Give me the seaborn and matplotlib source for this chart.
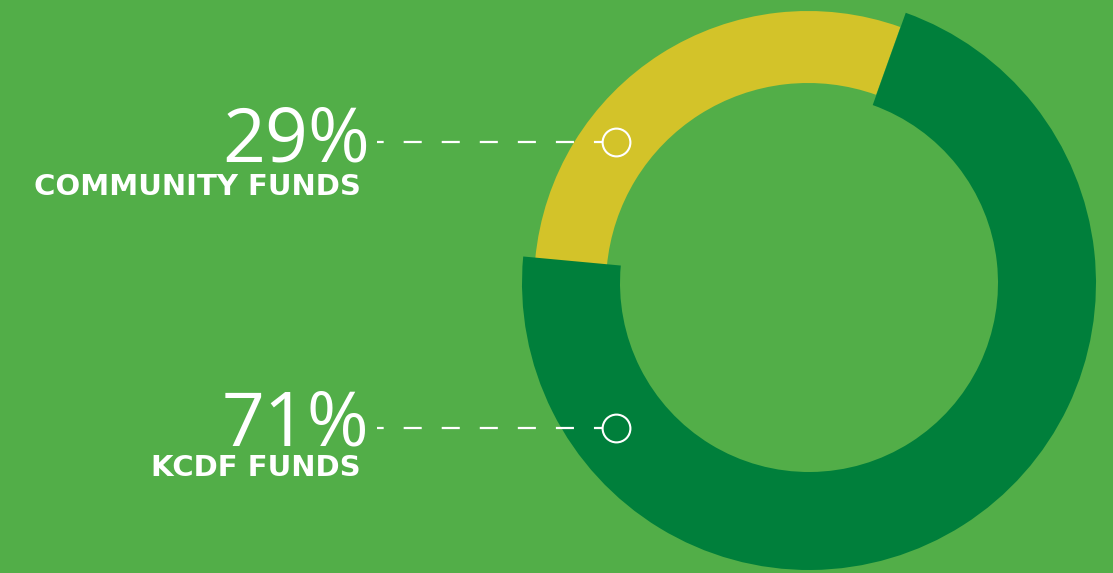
import matplotlib
matplotlib.use("Agg")
import matplotlib.pyplot as plt
import seaborn as sns

# data
labels = ["COMMUNITY FUNDS", "KCDF FUNDS"]
shares = [29, 71]
pct_text = ["29%", "71%"]

bg = "#52AE48"
colors = ["#D3C329", "#007F3B"]

sns.set_style("white")
plt.rcParams["font.family"] = ["Open Sans", "DejaVu Sans"]
plt.rcParams["lines.scale_dashes"] = False

fig = plt.figure(figsize=(11.13, 5.73), dpi=100)
fig.patch.set_facecolor(bg)
ax = fig.add_axes([0, 0, 1, 1])
ax.set_facecolor(bg)

# donut (pixel-like coordinates, y measured from bottom)
wedges, _ = ax.pie(shares, colors=colors, startangle=70.3, counterclock=True,
                   center=(809, 290), radius=287,
                   wedgeprops=dict(width=98, linewidth=0))
# the yellow ring is a bit thinner and sits slightly inside the green one
wedges[0].set_center((808, 288))
wedges[0].set_radius(274)
wedges[0].set_width(72)

ax.set_xlim(0, 1113)
ax.set_ylim(0, 573)
ax.set_aspect("equal")
ax.axis("off")

# leader lines with hollow circle ends
for y in [573 - 142, 573 - 428]:
    ax.plot([602, 377], [y, y], color="white", lw=1.6,
            ls=(7.2, (13, 14.4)), solid_capstyle="butt", dash_capstyle="butt")
    ax.plot([616], [y], marker="o", markersize=20, markerfacecolor="none",
            markeredgecolor="white", markeredgewidth=1.5)

# labels
big = dict(color="white", fontsize=54, ha="left", va="baseline")
small = dict(color="white", fontsize=21, fontweight="bold", ha="right",
             va="baseline", family=["DejaVu Sans"])
ax.text(222, 573 - 162, pct_text[0], **big)
ax.text(361, 573 - 195, labels[0], **small)
ax.text(222, 573 - 445, pct_text[1], **big)
ax.text(361, 573 - 476, labels[1], **small)

fig.savefig("out.png", dpi=100, facecolor=bg)
